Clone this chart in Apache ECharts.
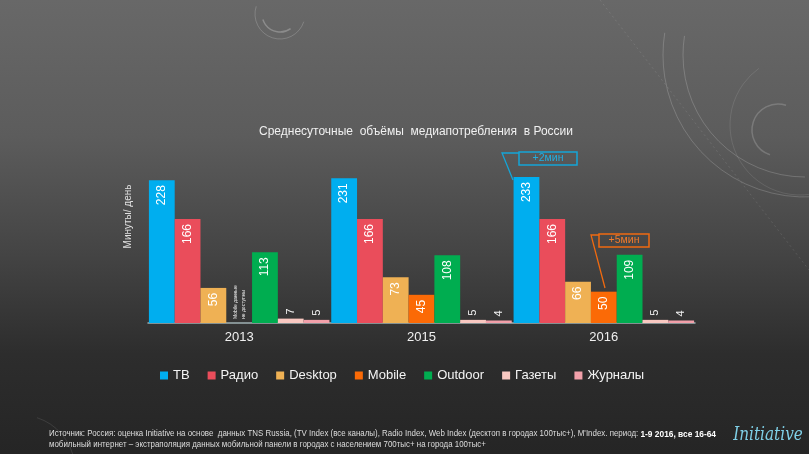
<!DOCTYPE html>
<html><head><meta charset="utf-8">
<script src="https://cdn.jsdelivr.net/npm/echarts@6/dist/echarts.min.js"></script>
<style>html,body{margin:0;padding:0;background:#333;}#c{width:809px;height:454px;}</style>
</head><body><div id="c"></div>
<script>
const categories = ['2013', '2015', '2016'];
const seriesNames = ['ТВ', 'Радио', 'Desktop', 'Mobile', 'Outdoor', 'Газеты', 'Журналы'];
const tv = [228, 231, 233];
const radio = [166, 166, 166];
const desktop = [56, 73, 66];
const mobile = [null, 45, 50]; // 2013: данные не доступны
const outdoor = [113, 108, 109];
const newspapers = [7, 5, 5];
const magazines = [5, 4, 4];
const seriesValues = [tv, radio, desktop, mobile, outdoor, newspapers, magazines];
const colors = ['#00aeef', '#ea4d5b', '#efb154', '#fb6a06', '#00ad50', '#f9c8c1', '#f2a0aa'];
const yName = 'Минуты/ день';
const titleText = 'Среднесуточные  объёмы  медиапотребления  в России';
const noDataNote = 'Mobile данные\nне доступны';

const chart = echarts.init(document.getElementById('c'), null, {renderer: 'canvas'});
const baseFont = "'Liberation Sans', Arial, sans-serif";

function labelFor(v) {
  if (v < 20) {
    return {show: true, position: 'top', rotate: 90, align: 'left', verticalAlign: 'middle',
      distance: 4, color: '#f2f2f2', fontSize: 11, fontFamily: baseFont};
  }
  return {show: true, position: 'insideTop', rotate: 90, align: 'right', verticalAlign: 'middle',
    distance: 5, color: '#ffffff', fontSize: 12, fontFamily: baseFont};
}

const series = seriesNames.map((name, i) => ({
  name, type: 'bar',
  barGap: '0%', barCategoryGap: '1%',
  itemStyle: {color: colors[i]},
  data: seriesValues[i].map(v => v == null
    ? {value: 0, label: {show: true, position: 'top', rotate: 90, align: 'left', verticalAlign: 'middle',
        distance: 4, formatter: noDataNote, color: '#eeeeee', fontSize: 5, lineHeight: 8, fontFamily: baseFont}}
    : {value: v, label: Object.assign(labelFor(v), {formatter: '{c}'})})
}));

const deco = 'rgba(255,255,255,0.18)';
const option = {
  animation: false,
  graphic: [
    {type: 'rect', z: -100, silent: true, shape: {x: 0, y: 0, width: 809, height: 454},
      style: {fill: {type: 'linear', x: 0, y: 0, x2: 0, y2: 1, colorStops: [
        {offset: 0, color: '#686868'}, {offset: 0.3, color: '#5c5c5c'},
        {offset: 0.55, color: '#454545'}, {offset: 0.78, color: '#2d2d2d'}, {offset: 1, color: '#252525'}]}}},
    {type: 'arc', z: -90, silent: true, shape: {cx: 805, cy: 55, r: 142, startAngle: Math.PI * 0.45, endAngle: Math.PI * 1.05},
      style: {stroke: deco, lineWidth: 1, fill: null}},
    {type: 'arc', z: -90, silent: true, shape: {cx: 805, cy: 55, r: 122, startAngle: Math.PI * 0.5, endAngle: Math.PI * 1.05},
      style: {stroke: deco, lineWidth: 1, fill: null}},
    {type: 'arc', z: -90, silent: true, shape: {cx: 800, cy: 125, r: 70, startAngle: Math.PI * 0.2, endAngle: Math.PI * 1.3},
      style: {stroke: 'rgba(255,255,255,0.1)', lineWidth: 1, fill: null}},
    {type: 'arc', z: -90, silent: true, shape: {cx: 778, cy: 130, r: 26, startAngle: Math.PI * 0.6, endAngle: Math.PI * 1.6},
      style: {stroke: deco, lineWidth: 1.5, fill: null}},
    {type: 'arc', z: -90, silent: true, shape: {cx: 280, cy: 14, r: 25, startAngle: Math.PI * 0.1, endAngle: Math.PI * 1.1},
      style: {stroke: deco, lineWidth: 1, fill: null}},
    {type: 'arc', z: -90, silent: true, shape: {cx: 280, cy: 14, r: 18, startAngle: Math.PI * 0.3, endAngle: Math.PI * 0.9},
      style: {stroke: 'rgba(255,255,255,0.25)', lineWidth: 1.5, fill: null}},
    {type: 'line', z: -90, silent: true, shape: {x1: 600, y1: 0, x2: 809, y2: 270},
      style: {stroke: 'rgba(255,255,255,0.1)', lineWidth: 1, lineDash: [2, 3]}},
    {type: 'arc', z: -90, silent: true, shape: {cx: 20, cy: 470, r: 55, startAngle: Math.PI * 1.6, endAngle: Math.PI * 1.95},
      style: {stroke: 'rgba(255,255,255,0.1)', lineWidth: 1, fill: null}},
    // +2мин annotation
    {type: 'polyline', z: 50, shape: {points: [[519, 153], [502, 153], [513, 180]]},
      style: {stroke: '#14a5d8', lineWidth: 1.3, fill: null}},
    {type: 'rect', z: 50, shape: {x: 519, y: 152, width: 58, height: 13},
      style: {stroke: '#14a5d8', lineWidth: 1.5, fill: 'rgba(0,0,0,0)'}},
    {type: 'text', z: 51, style: {x: 548, y: 158.5, text: '+2мин', fill: '#22aee0', fontSize: 10.5,
      fontFamily: baseFont, align: 'center', verticalAlign: 'middle'}},
    // +5мин annotation
    {type: 'polyline', z: 50, shape: {points: [[599, 235], [591, 235], [605, 288]]},
      style: {stroke: '#f06a10', lineWidth: 1.3, fill: null}},
    {type: 'rect', z: 50, shape: {x: 599, y: 234, width: 50, height: 13},
      style: {stroke: '#f06a10', lineWidth: 1.5, fill: 'rgba(0,0,0,0)'}},
    {type: 'text', z: 51, style: {x: 624, y: 240.5, text: '+5мин', fill: '#f37a2a', fontSize: 10.5,
      fontFamily: baseFont, align: 'center', verticalAlign: 'middle'}},
    // footer
    {type: 'text', z: 51, x: 49, y: 434, scaleX: 0.88, originX: 0, style: {x: 0, y: 0, verticalAlign: 'middle',
      text: '{n|Источник: Россия: оценка Initiative на основе  данных TNS Russia, (TV Index (все каналы), Radio Index, Web Index (десктоп в городах 100тыс+), M\'Index. период: }{b|1-9 2016, все 16-64}',
      rich: {n: {fill: '#dddddd', fontSize: 9, fontFamily: baseFont}, b: {fill: '#ffffff', fontSize: 9.5, fontWeight: 'bold', fontFamily: baseFont}}}},
    {type: 'text', z: 51, x: 49, y: 445, scaleX: 0.88, originX: 0, style: {x: 0, y: 0, verticalAlign: 'middle',
      text: 'мобильный интернет – экстраполяция данных мобильной панели в городах с населением 700тыс+ на города 100тыс+',
      fill: '#dddddd', fontSize: 9, fontFamily: baseFont}},
    {type: 'text', z: 51, x: 768, y: 435, scaleX: 0.85, style: {x: 0, y: 0, align: 'center', verticalAlign: 'middle', text: 'Initiative',
      fill: '#7fcfe6', fontSize: 18, fontStyle: 'italic', fontFamily: "'DejaVu Serif', serif"}}
  ],
  title: {text: titleText, left: 411, textAlign: 'center', top: 121,
    textStyle: {color: '#f0f0f0', fontSize: 12, fontWeight: 'normal', fontFamily: baseFont}},
  legend: {data: seriesNames, left: 155, top: 364, icon: 'rect', itemWidth: 8, itemHeight: 8, itemGap: 18,
    textStyle: {color: '#f4f4f4', fontSize: 13, fontFamily: baseFont}},
  grid: {left: 148, right: 114, top: 110, bottom: 131, containLabel: false},
  xAxis: {type: 'category', data: categories,
    axisLine: {show: true, lineStyle: {color: '#9fb0b2', width: 1.5}},
    axisTick: {show: false},
    axisLabel: {color: '#f0f0f0', fontSize: 13, margin: 8, fontFamily: baseFont}},
  yAxis: {type: 'value', min: 0, max: 340, name: yName, nameLocation: 'middle', nameGap: 15, nameRotate: 90,
    nameTextStyle: {color: '#e0e0e0', fontSize: 10, fontFamily: baseFont},
    axisLine: {show: false}, axisTick: {show: false}, axisLabel: {show: false}, splitLine: {show: false}},
  series
};
chart.setOption(option);
</script></body></html>
